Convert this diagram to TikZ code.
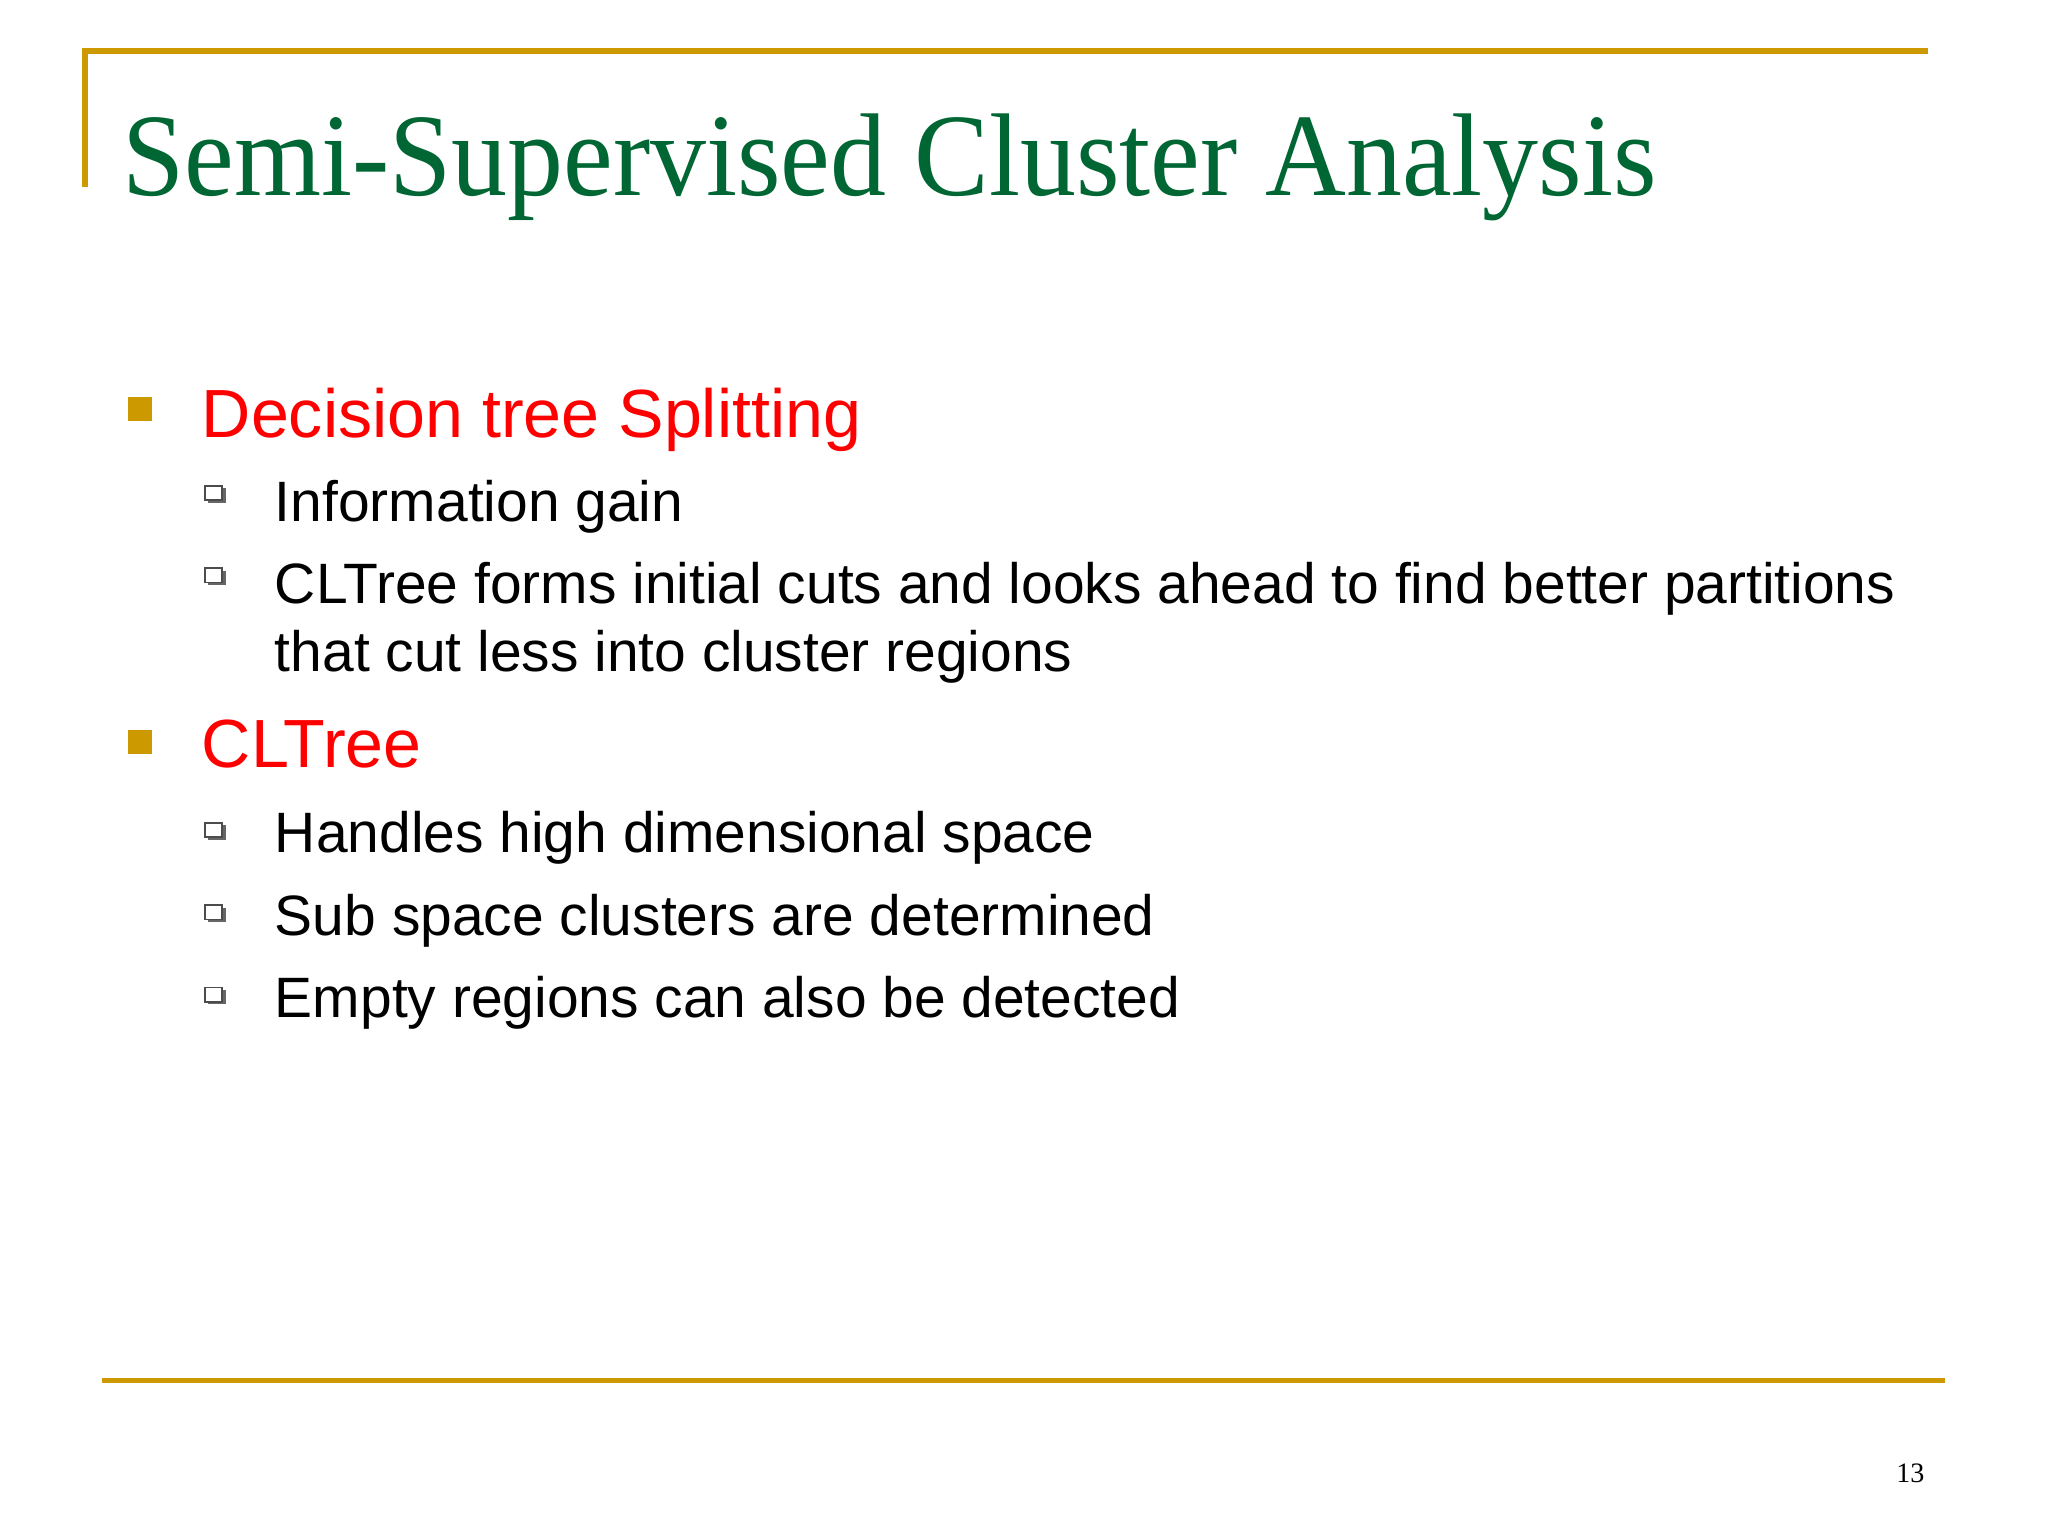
\documentclass[tikz,border=0pt]{standalone}
\usepackage{fontspec}
\setmainfont{Liberation Sans}
\newfontfamily\titlefont[FakeStretch=0.95]{Liberation Serif}
\newfontfamily\numfont{Liberation Serif}
\definecolor{gold}{RGB}{204,153,0}
\definecolor{tgreen}{RGB}{0,102,51}
\definecolor{hred}{RGB}{255,0,0}
\tikzset{
 head/.style={anchor=base west,inner sep=0,text=hred,font=\fontsize{19.4}{23}\selectfont},
 sub/.style={anchor=base west,inner sep=0,font=\fontsize{16.2}{19}\selectfont},
 gbul/.style={fill=gold,draw=none},
 hbul/.style={draw=black!70,fill=white,line width=0.5pt},
 rule/.style={draw=gold,line width=1.6pt}
}
\begin{document}
\begin{tikzpicture}[x=0.013061cm,y=-0.013061cm]
\useasboundingbox (0,0) rectangle (1568,1176);
\fill[white] (0,0) rectangle (1568,1176);
\draw[rule] (65,143) -- (65,39) -- (1476,39);
\draw[rule] (78,1057) -- (1489,1057);
\node[anchor=base west,inner sep=0,text=tgreen,font=\titlefont\fontsize{33.5}{40}\selectfont] (title) at (93,150) {Semi-Supervised Cluster Analysis};
\node[anchor=base east,inner sep=0,font=\numfont\fontsize{8}{10}\selectfont] (pg) at (1474,1135) {13};
% headings
\fill[gbul] (98,304) rectangle (116,322);
\node[head] (h1) at (154,335) {Decision tree Splitting};
\fill[gbul] (98,559) rectangle (116,577);
\node[head] (h2) at (154,588) {CLTree};
% sub bullets
\foreach \y in {372,435,630,693,756}{
 \fill[black!60] (159,\y+2) rectangle (173,\y+13);
 \draw[hbul] (157,\y) rectangle (170,\y+11);
}
\node[sub] (s1) at (210,399) {Information gain};
\node[sub] (s2) at (210,462) {CLTree forms initial cuts and looks ahead to find better partitions};
\node[sub] (s2b) at (210,514) {that cut less into cluster regions};
\node[sub] (s3) at (210,653) {Handles high dimensional space};
\node[sub] (s4) at (210,716) {Sub space clusters are determined};
\node[sub] (s5) at (210,779) {Empty regions can also be detected};
\end{tikzpicture}
\end{document}
